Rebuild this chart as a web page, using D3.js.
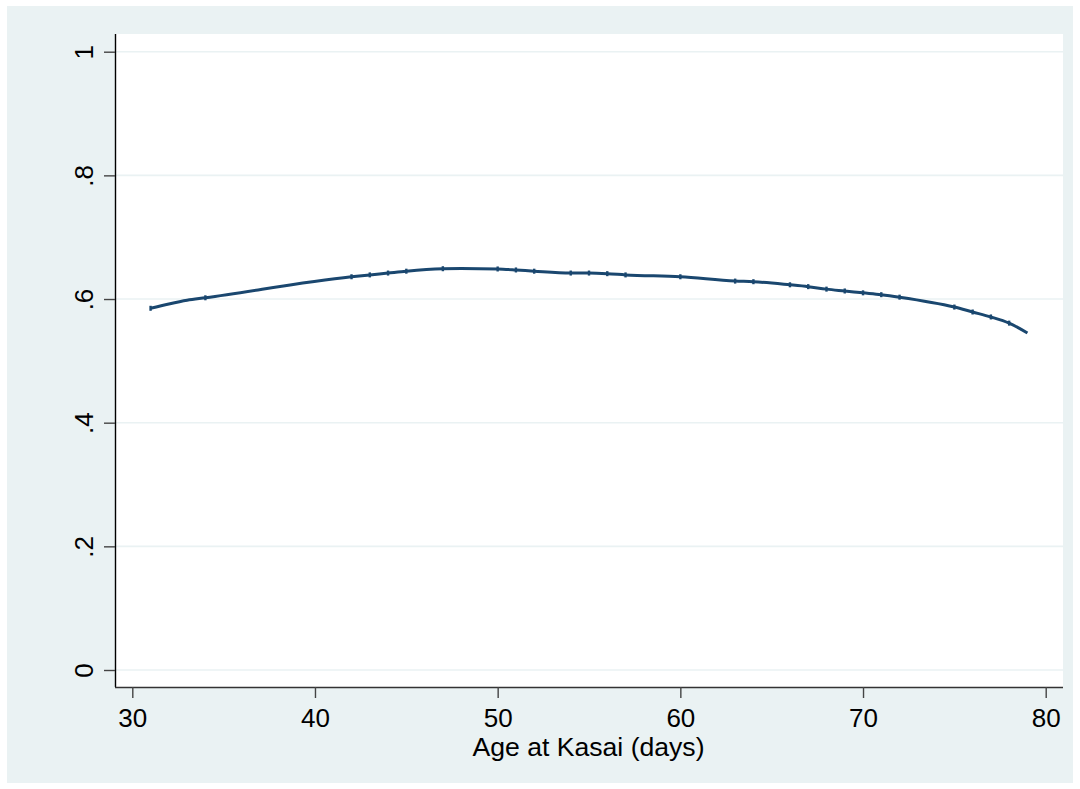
<!DOCTYPE html>
<html>
<head>
<meta charset="utf-8">
<script src="https://cdn.jsdelivr.net/npm/d3@7"></script>
<style>
  html, body { margin: 0; padding: 0; background: #ffffff; }
  svg { display: block; font-family: "Liberation Sans", Arial, Helvetica, sans-serif; }
</style>
</head>
<body>
<svg id="chart" width="1080" height="789"></svg>
<script>
// Smoothed curve: age at Kasai (days) vs. estimated proportion
const curveAges   = [31, 32, 33, 34, 42, 43, 44, 45, 47, 48, 50, 51, 52, 54, 55, 56, 57, 60, 63, 64, 66, 67, 68, 69, 70, 71, 72, 75, 76, 77, 78, 79];
const curveValues = [0.585, 0.592, 0.598, 0.602, 0.636, 0.639, 0.642, 0.645, 0.649, 0.6495, 0.6486, 0.647, 0.645, 0.642, 0.642, 0.641, 0.639, 0.636, 0.629, 0.628, 0.623, 0.620, 0.616, 0.613, 0.610, 0.607, 0.603, 0.587, 0.579, 0.571, 0.561, 0.545];
// Ages with observed data points (small markers along the curve)
const markerAges  = [31, 34, 42, 43, 44, 45, 47, 50, 51, 52, 54, 55, 56, 57, 60, 63, 64, 66, 67, 68, 69, 70, 71, 72, 75, 76, 77, 78];

const xTicks = [30, 40, 50, 60, 70, 80];
const yTicks = [0, 0.2, 0.4, 0.6, 0.8, 1];
const yTickLabels = ["0", ".2", ".4", ".6", ".8", "1"];
const xTitle = "Age at Kasai (days)";

const svg = d3.select("#chart");
const W = 1080, H = 789;

// Graph region background
svg.append("rect").attr("x", 7).attr("y", 6).attr("width", W - 14).attr("height", H - 12)
  .attr("fill", "#eaf2f3");

const plot = { left: 115, right: 1063, top: 34, bottom: 687 };
svg.append("rect").attr("x", plot.left).attr("y", plot.top)
  .attr("width", plot.right - plot.left).attr("height", plot.bottom - plot.top)
  .attr("fill", "#ffffff");

const x = d3.scaleLinear().domain([30, 80]).range([132.3, 1045.7]);
const y = d3.scaleLinear().domain([0, 1]).range([670, 51.7]);

// Horizontal grid lines
svg.append("g").selectAll("line").data(yTicks).join("line")
  .attr("x1", plot.left).attr("x2", plot.right)
  .attr("y1", d => y(d)).attr("y2", d => y(d))
  .attr("stroke", "#eaf2f3").attr("stroke-width", 1.6);

// Y axis
const yAxis = svg.append("g").attr("transform", `translate(${plot.left},0)`)
  .call(d3.axisLeft(y).tickValues(yTicks).tickFormat((d, i) => yTickLabels[i]).tickSize(11).tickSizeOuter(0));
yAxis.select(".domain").attr("d", `M0.5,${plot.top}V${plot.bottom}`).attr("stroke", "#000").attr("stroke-width", 1.4);
yAxis.selectAll(".tick line").attr("stroke", "#444").attr("stroke-width", 1.4);
yAxis.selectAll(".tick text")
  .attr("font-size", 26).attr("fill", "#000")
  .attr("text-anchor", "middle")
  .attr("transform", "translate(-22.5,0) rotate(-90)")
  .attr("x", 0).attr("y", 0).attr("dy", 0);

// X axis
const xAxis = svg.append("g").attr("transform", `translate(0,${plot.bottom})`)
  .call(d3.axisBottom(x).tickValues(xTicks).tickFormat(d3.format("d")).tickSize(11).tickSizeOuter(0));
xAxis.select(".domain").attr("d", `M${plot.left},0.5H${plot.right}`).attr("stroke", "#333").attr("stroke-width", 1.4);
xAxis.selectAll(".tick text")
  .attr("font-size", 26).attr("fill", "#000")
  .attr("y", 39.5).attr("dy", 0);
xAxis.selectAll(".tick line").attr("stroke", "#444").attr("stroke-width", 1.4);

// Axis title
svg.append("text").attr("x", 588.5).attr("y", 756)
  .attr("text-anchor", "middle").attr("font-size", 26.6).attr("fill", "#000")
  .text(xTitle);

// Curve
const pts = curveAges.map((a, i) => [a, curveValues[i]]);
const line = d3.line().x(d => x(d[0])).y(d => y(d[1])).curve(d3.curveMonotoneX);
svg.append("path").datum(pts).attr("d", line)
  .attr("fill", "none").attr("stroke", "#1a476f").attr("stroke-width", 3)
  .attr("stroke-linejoin", "round").attr("stroke-linecap", "butt");

// Data-point markers
const valueAt = a => curveValues[curveAges.indexOf(a)];
svg.append("g").selectAll("rect").data(markerAges).join("rect")
  .attr("x", d => x(d) - 1.2).attr("y", d => y(valueAt(d)) - 2.5)
  .attr("width", 2.4).attr("height", 5)
  .attr("fill", "#1a476f");
</script>
</body>
</html>
